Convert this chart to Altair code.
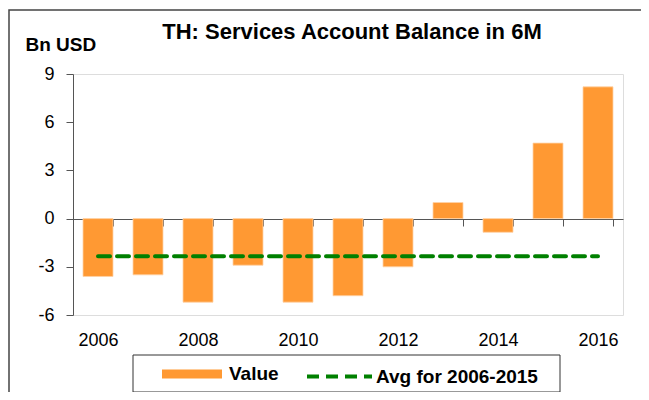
import altair as alt
import pandas as pd

# ---- data ----
years = [2006, 2007, 2008, 2009, 2010, 2011, 2012, 2013, 2014, 2015, 2016]
values = [-3.6, -3.5, -5.2, -2.9, -5.2, -4.8, -3.0, 1.0, -0.85, 4.7, 8.2]
avg_2006_2015 = -2.34
y_ticks = [-6, -3, 0, 3, 6, 9]
series_bar = "Value"
series_avg = "Avg for 2006-2015"
title_text = "TH: Services Account Balance in 6M"
y_title = "Bn USD"

FONT = "Liberation Sans"
ORANGE = "#FF9933"
GREEN = "#008000"
AXIS_C = "#555555"

bars_df = pd.DataFrame({"year": years, "value": values, "series": series_bar})
avg_df = pd.DataFrame({"year": years, "avg": [avg_2006_2015] * len(years), "series": series_avg})
one = pd.DataFrame({"k": [0]})

W, H = 550, 241

x_bar = alt.X(
    "year:O",
    scale=alt.Scale(paddingInner=0.4, paddingOuter=0.2),
    axis=alt.Axis(
        title=None, orient="bottom", offset=-96, tickBand="extent", tickSize=7,
        labelPadding=105, labelAngle=0,
        labelExpr="datum.value % 2 == 0 ? datum.label : ''",
        domainColor=AXIS_C, tickColor=AXIS_C, labelColor="black",
        labelFont=FONT, labelFontSize=18,
    ),
)

bars = alt.Chart(bars_df).mark_bar(stroke="#FFD2A6", strokeWidth=0.8).encode(
    x=x_bar,
    y=alt.Y(
        "value:Q",
        scale=alt.Scale(domain=[-6, 9], nice=False, zero=False),
        axis=alt.Axis(
            values=y_ticks, grid=False, tickSize=7, labelPadding=12,
            labelExpr="'' + datum.value",
            domainColor=AXIS_C, tickColor=AXIS_C, labelColor="black",
            labelFont=FONT, labelFontSize=18,
            title=y_title, titleAngle=0, titleX=-48, titleY=-24,
            titleAlign="left", titleBaseline="alphabetic",
            titleFont=FONT, titleFontSize=19, titleFontWeight="bold", titleColor="black",
        ),
    ),
    color=alt.Color(
        "series:N",
        scale=alt.Scale(domain=[series_bar], range=[ORANGE]),
        legend=alt.Legend(
            title=None, orient="none", legendX=89, legendY=270, padding=0,
            symbolType="M-1,-0.15H1V0.15H-1Z", symbolSize=3600, symbolStrokeWidth=0,
            labelOffset=7, labelFont=FONT, labelFontSize=19, labelFontWeight="bold",
            labelColor="black", labelLimit=300,
        ),
    ),
)

line = alt.Chart(avg_df).mark_line(
    strokeWidth=4, strokeDash=[12, 7], strokeCap="round"
).encode(
    x=alt.X("year:O"),
    y=alt.Y("avg:Q"),
    stroke=alt.Stroke(
        "series:N",
        scale=alt.Scale(domain=[series_avg], range=[GREEN]),
        legend=alt.Legend(
            title=None, orient="none", legendX=232, legendY=268, padding=0,
            symbolType="stroke", symbolSize=4225, symbolStrokeWidth=4,
            symbolDash=[12, 7],
            labelOffset=2, labelFont=FONT, labelFontSize=19, labelFontWeight="bold",
            labelColor="black", labelLimit=300,
        ),
    ),
)

legend_box = alt.Chart(one).mark_rect(
    fill="white", fillOpacity=0, stroke="#333333", strokeWidth=1
).encode(
    x=alt.value(60), x2=alt.value(487), y=alt.value(281), y2=alt.value(318)
)

# outer frame of the chart (only its left and top edges fall inside the page)
frame = alt.Chart(one).mark_rect(
    fill="white", fillOpacity=0, stroke="#444444", strokeWidth=1.5
).encode(
    x=alt.value(-64), x2=alt.value(700), y=alt.value(-64), y2=alt.value(400)
)

chart = alt.layer(frame, legend_box, bars, line).properties(
    width=W, height=H,
    title=alt.TitleParams(
        title_text, font=FONT, fontSize=22, fontWeight="bold", color="black",
        anchor="middle", offset=0, baseline="alphabetic", dy=52, dx=4,
    ),
    autosize=alt.AutoSizeParams(type="none"),
    padding={"left": 65, "top": 66, "right": 18, "bottom": 77},
).configure_view(stroke=None).configure(background="white")

chart.save("out.html", embed_options={"renderer": "svg", "actions": False})
